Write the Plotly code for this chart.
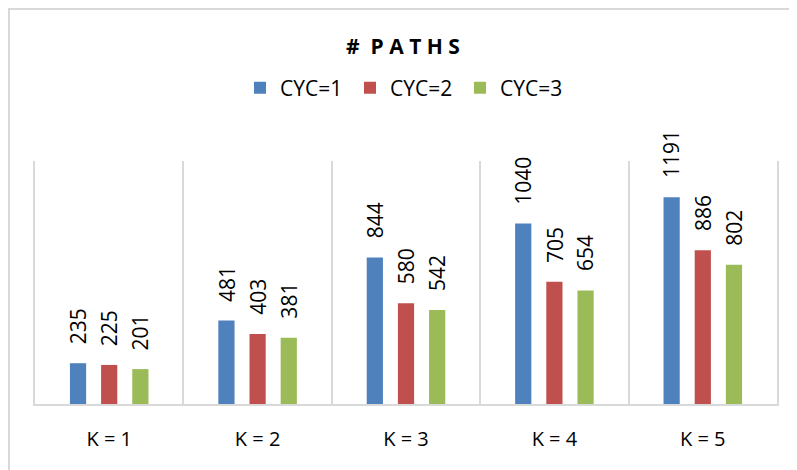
import plotly.graph_objects as go

categories = ["K = 1", "K = 2", "K = 3", "K = 4", "K = 5"]
cyc1 = [235, 481, 844, 1040, 1191]
cyc2 = [225, 403, 580, 705, 886]
cyc3 = [201, 381, 542, 654, 802]
series_names = ["CYC=1", "CYC=2", "CYC=3"]
colors = ["#4F81BD", "#C0504D", "#9BBB59"]

# page body has an 8px margin, so work in figure coords = page - 8
OFF = 8
W, H = 797 - OFF, 470 - OFF
ml, mr, mt, mb = 35 - OFF, 20, 161 - OFF, 66
pw, ph = W - ml - mr, H - mt - mb

bargap = 0.37
slot = (1 - bargap) / 3
font = "Open Sans"

fig = go.Figure()
annotations = []
for j, (name, vals, col) in enumerate(zip(series_names, [cyc1, cyc2, cyc3], colors)):
    fig.add_trace(go.Bar(x=categories, y=vals, name=name, marker_color=col,
                         marker_line_width=0))
    for i, v in enumerate(vals):
        annotations.append(dict(x=i + (j - 1) * slot, y=v, xref="x", yref="y",
                                text=str(v), showarrow=False, textangle=-90,
                                xanchor="center", yanchor="bottom", yshift=17,
                                font=dict(family=font, size=21, color="#000")))

fig.update_layout(
    width=W, height=H,
    margin=dict(l=ml, r=mr, t=mt, b=mb),
    paper_bgcolor="white", plot_bgcolor="white",
    barmode="group", bargap=bargap, bargroupgap=0.48,
    title=dict(text="#  P A T H S", x=(403 - OFF) / W, xanchor="center",
               y=1 - (47 - OFF) / H, yanchor="middle", yref="container",
               font=dict(family=font, size=21, color="#000", weight="bold")),
    legend=dict(orientation="h", x=(240 - OFF) / W, xanchor="left", xref="container",
                y=1 - (88 - OFF) / H, yanchor="middle", yref="container",
                font=dict(family=font, size=21, color="#000"),
                entrywidth=65, traceorder="normal"),
    annotations=annotations,
    showlegend=True,
)
fig.update_xaxes(type="category", tickson="boundaries", showgrid=True,
                 gridcolor="#D9D9D9", gridwidth=1.5, showline=True,
                 linecolor="#D9D9D9", linewidth=2, ticks="",
                 ticklabelstandoff=16,
                 tickfont=dict(family=font, size=20, color="#000"))
fig.update_yaxes(range=[0, 1400], showticklabels=False, showgrid=False,
                 zeroline=False, showline=True, mirror=True,
                 linecolor="#D9D9D9", linewidth=1.5)

# outer chart border along the top/left edges
fig.add_shape(type="rect", xref="paper", yref="paper",
              x0=(1 - ml) / pw, x1=(W + 20 - ml) / pw,
              y0=-(H + 20 - mt - ph) / ph, y1=(mt + ph - 1) / ph,
              line=dict(color="#D9D9D9", width=2), fillcolor="rgba(0,0,0,0)",
              layer="below")

fig.write_html("out.html")
